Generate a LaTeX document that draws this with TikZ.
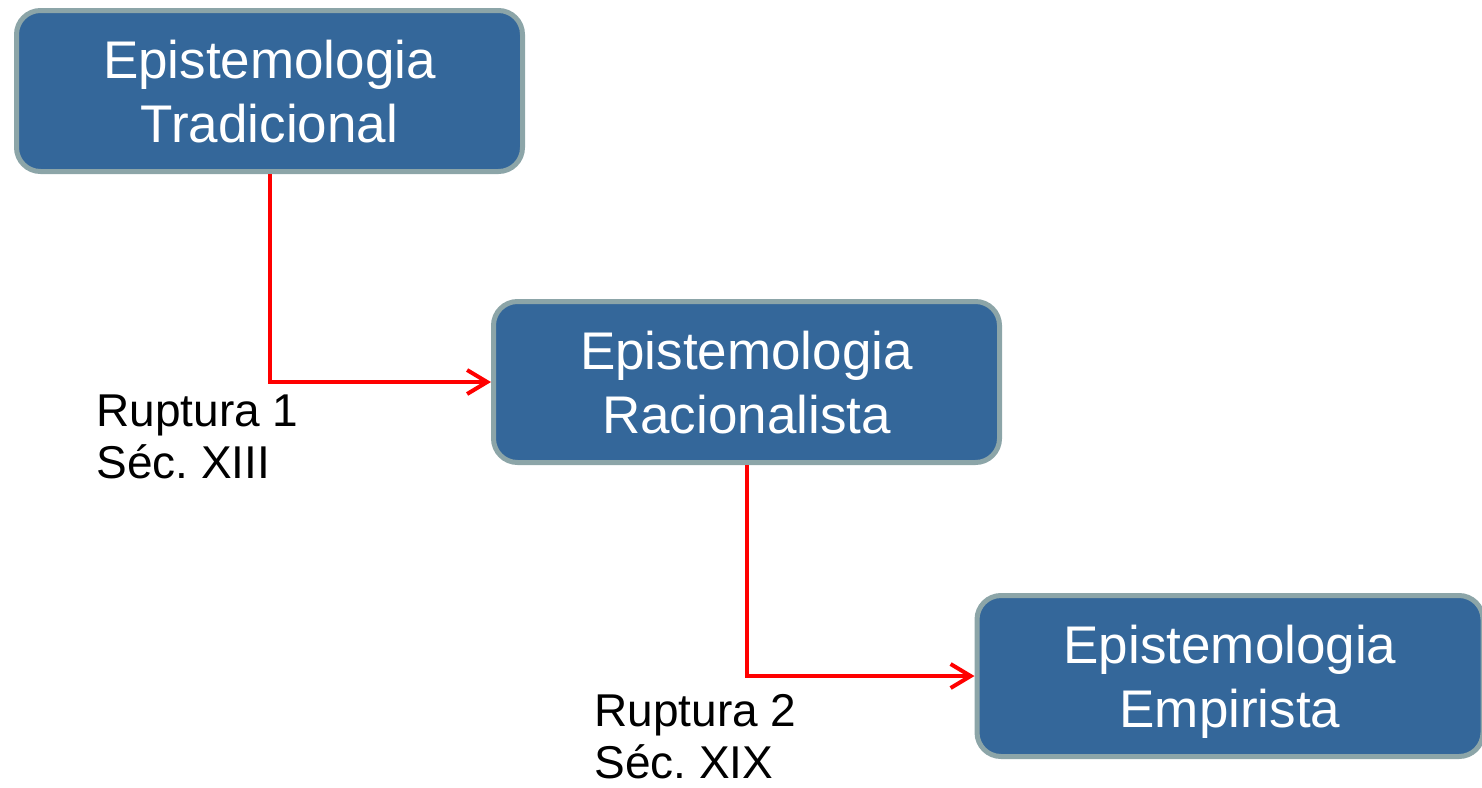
\documentclass[tikz,border=0pt]{standalone}
\usepackage{fontspec}
\setmainfont{Liberation Sans}
\usetikzlibrary{arrows.meta,positioning}

\definecolor{boxblue}{RGB}{52,103,154}
\definecolor{boxrim}{RGB}{140,165,168}
\definecolor{rupred}{RGB}{255,0,0}

\tikzset{
  epibox/.style={draw=boxrim, line width=2.5pt, fill=boxblue, rounded corners=12pt,
    minimum width=253pt, minimum height=80.5pt, inner sep=0pt,
    text=white, align=center, text depth=0pt, font=\fontsize{26.5}{32}\selectfont},
  ruptura/.style={draw=rupred, line width=2pt, -{Straight Barb[length=10pt,width=12pt]}},
  rotulo/.style={align=left, inner sep=0pt, anchor=north west, font=\fontsize{23}{26}\selectfont\frenchspacing}
}

\begin{document}
\begin{tikzpicture}[x=0.5pt,y=-0.5pt]
            \useasboundingbox (0,0) rectangle (1482,787);

            % caixas
            \node[epibox] (trad) at (269.5,91) {Epistemologia\\Tradicional};
            \node[epibox] (racio) at (746.5,382) {Epistemologia\\Racionalista};
            \node[epibox] (empir) at (1230,676) {Epistemologia\\Empirista};

            % rupturas
            \draw[ruptura] (trad.south) |- (racio.west);
            \draw[ruptura] (racio.south) |- (empir.west);

            \node[rotulo] (rup1) at (96,394) {Ruptura 1\\Séc. XIII};
            \node[rotulo] (rup2) at (594,694) {Ruptura 2\\Séc. XIX};

        \end{tikzpicture}
\end{document}
